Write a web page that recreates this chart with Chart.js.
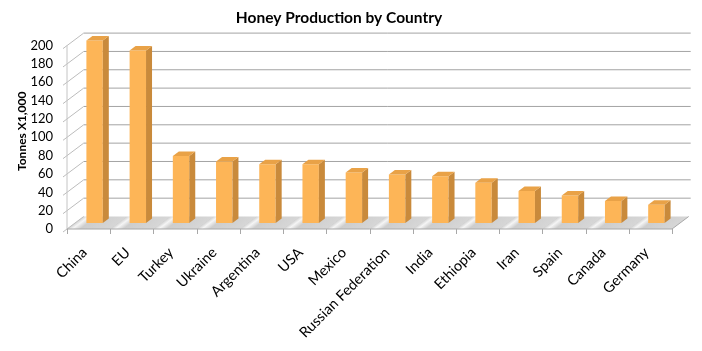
<!DOCTYPE html>
<html>
<head>
<meta charset="utf-8">
<script src="https://cdn.jsdelivr.net/npm/chart.js@4.4.0/dist/chart.umd.min.js"></script>
<style>
  body { margin: 0; background: #fff; }
  canvas { display: block; }
</style>
</head>
<body>
<canvas id="honeyChart" width="702" height="351"></canvas>
<script>
// 国家
const countries = ['China', 'EU', 'Turkey', 'Ukraine', 'Argentina', 'USA', 'Mexico',
  'Russian Federation', 'India', 'Ethiopia', 'Iran', 'Spain', 'Canada', 'Germany'];

// 产量 (Tonnes X1,000)
const production = [199, 188, 73, 67, 64, 64, 55, 53, 51, 44, 35, 30, 24, 20];

// Y 轴刻度
const yMin = 0;
const yMax = 200;
const yStep = 20;

// 3D 偏移: 前沿 / 后墙 / 柱子厚度
const front = { x: -6, y: 6 };
const back = { x: 10.7, y: -6.5 };
const side = { x: 6, y: -4.5 };

// 颜色
const faceColor = '#FDB557';
const sideColor = '#C98A3B';
const topColor = '#E9A247';

// 墙面、地板、刻度
const wallPlugin = {
  id: 'wall3d',
  beforeDatasetsDraw(chart) {
    const { ctx, chartArea: a, scales: { y } } = chart;
    const L = a.left, R = a.right;
    const B = y.getPixelForValue(yMin);
    const n = countries.length;
    const w = (R - L) / n;
    ctx.save();

    // 地板 (斜向条纹)
    const k = (back.x - front.x) / (back.y - front.y);
    ctx.save();
    ctx.transform(1, 0, k, 1, -k * (B + front.y), 0);
    const g = ctx.createLinearGradient(L + front.x, 0, R + front.x, 0);
    for (let i = 0; i < n; i++) {
      const s = i / n;
      g.addColorStop(s, '#d2d2d2');
      g.addColorStop(s + 0.12 / n, '#f5f5f5');
      g.addColorStop(s + 0.3 / n, '#cdcdcd');
      g.addColorStop(s + 0.99 / n, '#d6d6d6');
    }
    ctx.fillStyle = g;
    ctx.fillRect(L + front.x, B + back.y, R - L, front.y - back.y);
    ctx.restore();

    // 后墙网格线 + 左墙斜线
    ctx.lineWidth = 1;
    y.ticks.forEach(t => {
      const py = y.getPixelForValue(t.value);
      if (t.value > yMin) {
        ctx.strokeStyle = '#a3a3a3';
        ctx.beginPath();
        ctx.moveTo(L + back.x, py + back.y);
        ctx.lineTo(R + back.x + 2, py + back.y);
        ctx.stroke();
      }
      ctx.strokeStyle = '#bcbcbc';
      ctx.beginPath();
      ctx.moveTo(L + front.x - 4, py + front.y + 3);
      ctx.lineTo(L + back.x, py + back.y);
      ctx.stroke();
    });

    // 前面竖轴
    ctx.strokeStyle = '#c4c4c4';
    ctx.beginPath();
    ctx.moveTo(L + front.x, B + front.y);
    ctx.lineTo(L + front.x, y.getPixelForValue(yMax) + front.y);
    ctx.stroke();

    // 地板边线 + X 轴刻度
    ctx.strokeStyle = '#a8a8a8';
    ctx.beginPath();
    ctx.moveTo(L + front.x, B + front.y);
    ctx.lineTo(R + front.x, B + front.y);
    ctx.lineTo(R + back.x, B + back.y);
    ctx.stroke();
    for (let i = 0; i <= n; i++) {
      const px = Math.round(L + i * w + front.x) + 0.5;
      ctx.beginPath();
      ctx.moveTo(px, B + front.y);
      ctx.lineTo(px, B + front.y + 5);
      ctx.stroke();
    }
    ctx.restore();
  },
  afterDatasetsDraw(chart) {
    const { ctx } = chart;
    const meta = chart.getDatasetMeta(0);
    ctx.save();
    meta.data.forEach(bar => {
      const p = bar.getProps(['x', 'y', 'base', 'width'], true);
      const l = p.x - p.width / 2, r = p.x + p.width / 2;
      // 侧面
      ctx.fillStyle = sideColor;
      ctx.beginPath();
      ctx.moveTo(r, p.y);
      ctx.lineTo(r + side.x, p.y + side.y);
      ctx.lineTo(r + side.x, p.base + side.y);
      ctx.lineTo(r, p.base);
      ctx.closePath();
      ctx.fill();
      // 顶面
      ctx.fillStyle = topColor;
      ctx.beginPath();
      ctx.moveTo(l, p.y);
      ctx.lineTo(r, p.y);
      ctx.lineTo(r + side.x, p.y + side.y);
      ctx.lineTo(l + side.x, p.y + side.y);
      ctx.closePath();
      ctx.fill();
    });
    ctx.restore();
  }
};

const ctxHoney = document.querySelector('#honeyChart');
new Chart(ctxHoney, {
  type: 'bar',
  data: {
    labels: countries,
    datasets: [{
      data: production,
      backgroundColor: faceColor,
      borderWidth: 0,
      barPercentage: 0.38,
      categoryPercentage: 1
    }]
  },
  options: {
    responsive: false,
    animation: false,
    events: [],
    layout: { padding: { left: 0, right: 24, top: 0, bottom: 0 } },
    plugins: {
      legend: { display: false },
      tooltip: { enabled: false },
      title: {
        display: true,
        text: 'Honey Production by Country',
        color: '#000',
        font: { family: 'Lato', size: 15.5, weight: 'bold' },
        padding: { top: 9, bottom: 12 }
      }
    },
    scales: {
      x: {
        grid: { display: false, drawTicks: false },
        border: { display: false },
        ticks: {
          color: '#000',
          font: { family: 'Lato', size: 14.5 },
          minRotation: 45,
          maxRotation: 45,
          padding: 21,
          labelOffset: -10,
          autoSkip: false
        },
        afterFit(scale) { scale.height = 128; }
      },
      y: {
        min: yMin,
        max: yMax,
        grid: { display: false, drawTicks: false },
        border: { display: false },
        ticks: {
          stepSize: yStep,
          autoSkip: false,
          color: '#000',
          font: { family: 'Lato', size: 13 },
          padding: 20,
          labelOffset: 6
        },
        title: {
          display: true,
          text: 'Tonnes X1,000',
          color: '#000',
          font: { family: 'Lato', size: 12, weight: 'bold' },
          padding: { top: 15, bottom: 0 }
        },
        afterFit(scale) { scale.width = 73; }
      }
    }
  },
  plugins: [wallPlugin]
});
</script>
</body>
</html>
